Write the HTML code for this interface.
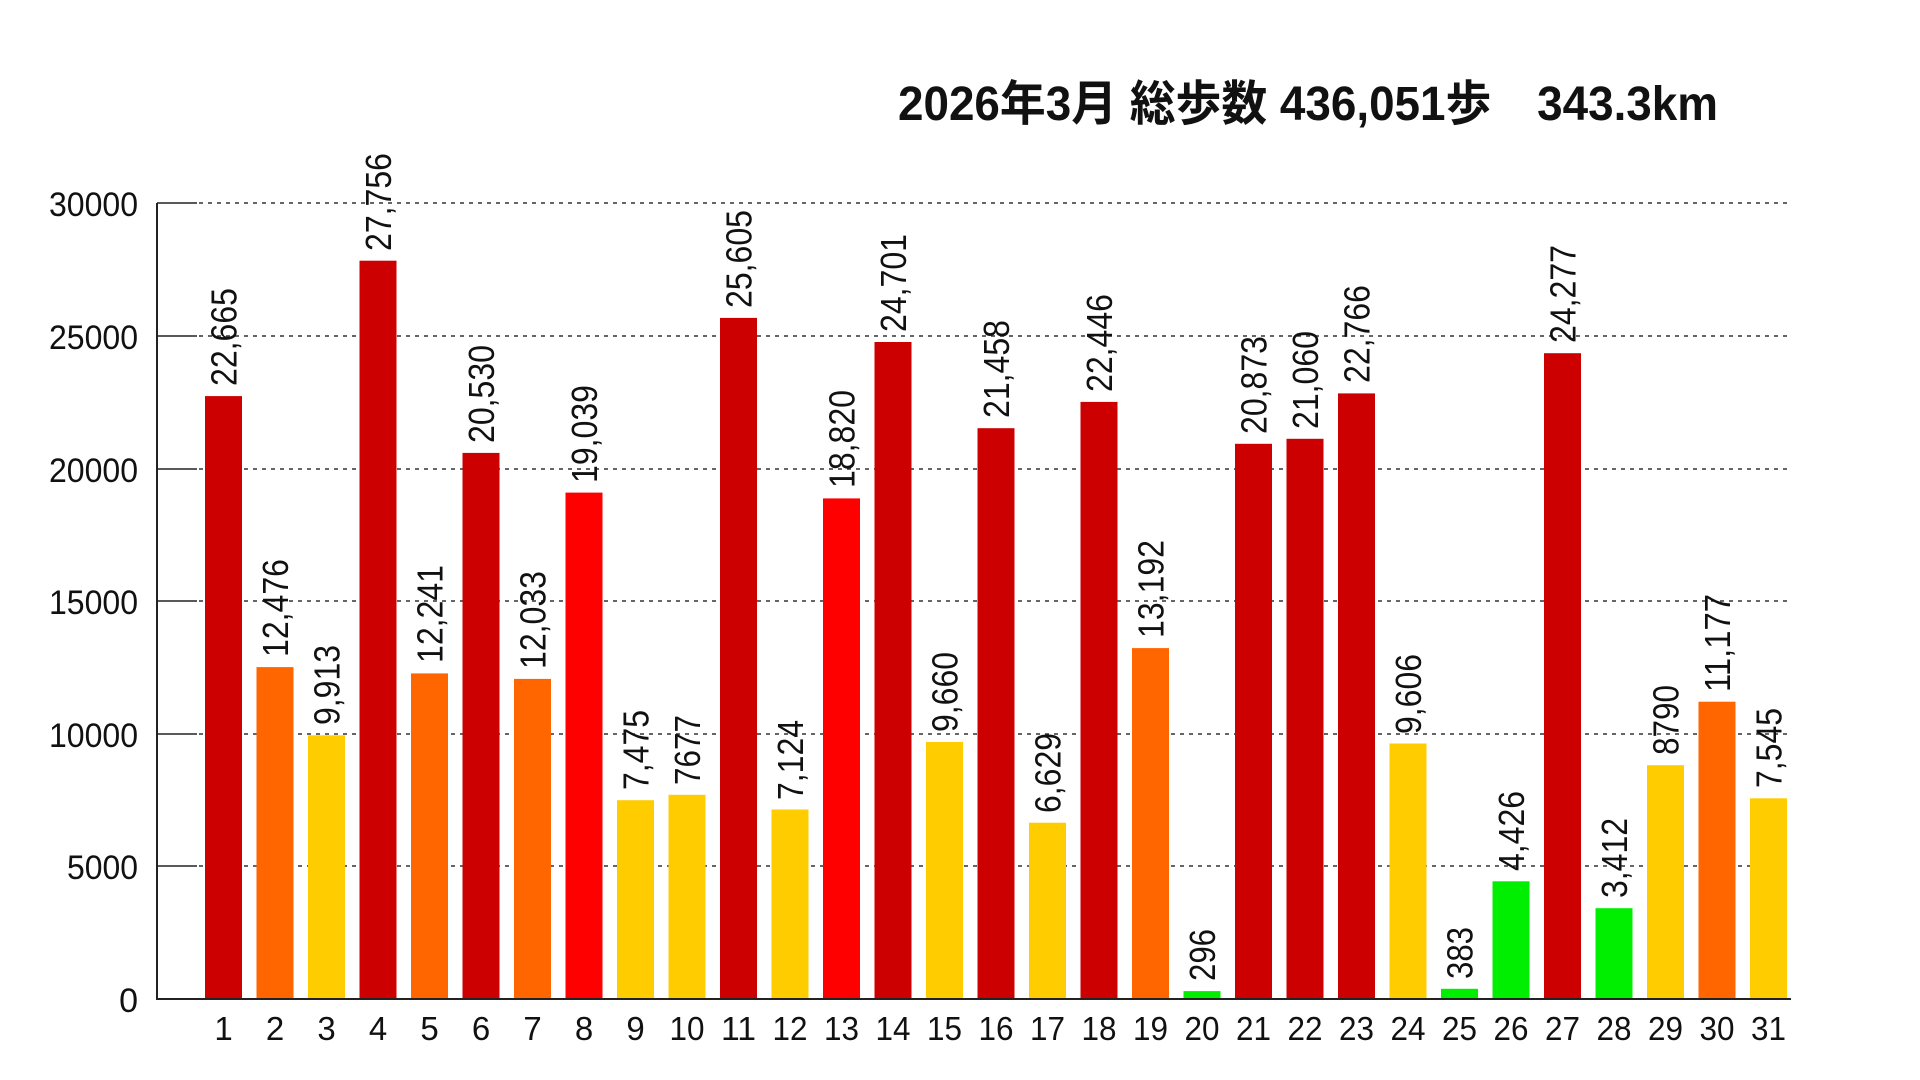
<!DOCTYPE html>
<html><head><meta charset="utf-8"><style>
html,body{margin:0;padding:0;background:#fff;}
svg{display:block;}
text{font-family:"Liberation Sans","Noto Sans CJK JP",sans-serif;fill:#111;}
</style></head><body>
<svg width="1920" height="1080" viewBox="0 0 1920 1080" xmlns="http://www.w3.org/2000/svg">
<text x="898" y="120" font-size="48" font-weight="bold" textLength="820" lengthAdjust="spacingAndGlyphs">2026年3月 総歩数 436,051歩　343.3km</text>
<g stroke="#222" stroke-width="1.5">
<line x1="157" y1="203" x2="197" y2="203"/><line x1="157" y1="336" x2="197" y2="336"/><line x1="157" y1="469" x2="197" y2="469"/><line x1="157" y1="601" x2="197" y2="601"/><line x1="157" y1="734" x2="197" y2="734"/><line x1="157" y1="866" x2="197" y2="866"/>
</g>
<g stroke="#333" stroke-width="1.5" stroke-dasharray="4 5">
<line x1="199" y1="203" x2="1791" y2="203"/><line x1="199" y1="336" x2="1791" y2="336"/><line x1="199" y1="469" x2="1791" y2="469"/><line x1="199" y1="601" x2="1791" y2="601"/><line x1="199" y1="734" x2="1791" y2="734"/><line x1="199" y1="866" x2="1791" y2="866"/>
</g>
<g font-size="34" text-anchor="end">
<text x="138" y="216" textLength="89" lengthAdjust="spacingAndGlyphs">30000</text>
<text x="138" y="349" textLength="89" lengthAdjust="spacingAndGlyphs">25000</text>
<text x="138" y="482" textLength="89" lengthAdjust="spacingAndGlyphs">20000</text>
<text x="138" y="614" textLength="89" lengthAdjust="spacingAndGlyphs">15000</text>
<text x="138" y="747" textLength="89" lengthAdjust="spacingAndGlyphs">10000</text>
<text x="138" y="879" textLength="71" lengthAdjust="spacingAndGlyphs">5000</text>
<text x="138" y="1012">0</text>
</g>
<g>
<rect x="205" y="396.1" width="37" height="602.9" fill="#CC0000"/>
<rect x="256.5" y="667.1" width="37" height="331.9" fill="#FF6600"/>
<rect x="308" y="735.3" width="37" height="263.7" fill="#FFCC00"/>
<rect x="359.5" y="260.7" width="37" height="738.3" fill="#CC0000"/>
<rect x="411" y="673.4" width="37" height="325.6" fill="#FF6600"/>
<rect x="462.5" y="452.9" width="37" height="546.1" fill="#CC0000"/>
<rect x="514" y="678.9" width="37" height="320.1" fill="#FF6600"/>
<rect x="565.5" y="492.6" width="37" height="506.4" fill="#FF0000"/>
<rect x="617" y="800.2" width="37" height="198.8" fill="#FFCC00"/>
<rect x="668.5" y="794.8" width="37" height="204.2" fill="#FFCC00"/>
<rect x="720" y="317.9" width="37" height="681.1" fill="#CC0000"/>
<rect x="771.5" y="809.5" width="37" height="189.5" fill="#FFCC00"/>
<rect x="823" y="498.4" width="37" height="500.6" fill="#FF0000"/>
<rect x="874.5" y="342" width="37" height="657" fill="#CC0000"/>
<rect x="926" y="742" width="37" height="257" fill="#FFCC00"/>
<rect x="977.5" y="428.2" width="37" height="570.8" fill="#CC0000"/>
<rect x="1029" y="822.7" width="37" height="176.3" fill="#FFCC00"/>
<rect x="1080.5" y="401.9" width="37" height="597.1" fill="#CC0000"/>
<rect x="1132" y="648.1" width="37" height="350.9" fill="#FF6600"/>
<rect x="1183.5" y="991.1" width="37" height="7.9" fill="#00EE00"/>
<rect x="1235" y="443.8" width="37" height="555.2" fill="#CC0000"/>
<rect x="1286.5" y="438.8" width="37" height="560.2" fill="#CC0000"/>
<rect x="1338" y="393.4" width="37" height="605.6" fill="#CC0000"/>
<rect x="1389.5" y="743.5" width="37" height="255.5" fill="#FFCC00"/>
<rect x="1441" y="988.8" width="37" height="10.2" fill="#00EE00"/>
<rect x="1492.5" y="881.3" width="37" height="117.7" fill="#00EE00"/>
<rect x="1544" y="353.2" width="37" height="645.8" fill="#CC0000"/>
<rect x="1595.5" y="908.2" width="37" height="90.8" fill="#00EE00"/>
<rect x="1647" y="765.2" width="37" height="233.8" fill="#FFCC00"/>
<rect x="1698.5" y="701.7" width="37" height="297.3" fill="#FF6600"/>
<rect x="1750" y="798.3" width="37" height="200.7" fill="#FFCC00"/>
</g>
<g stroke="#222" stroke-width="2">
<line x1="157" y1="203" x2="157" y2="999"/>
<line x1="156" y1="999" x2="1791" y2="999"/>
</g>
<g font-size="36">
<text transform="translate(236.5,386) rotate(-90)" textLength="98" lengthAdjust="spacingAndGlyphs">22,665</text>
<text transform="translate(288,657) rotate(-90)" textLength="98" lengthAdjust="spacingAndGlyphs">12,476</text>
<text transform="translate(339.5,725) rotate(-90)" textLength="80" lengthAdjust="spacingAndGlyphs">9,913</text>
<text transform="translate(391,251) rotate(-90)" textLength="98" lengthAdjust="spacingAndGlyphs">27,756</text>
<text transform="translate(442.5,663) rotate(-90)" textLength="98" lengthAdjust="spacingAndGlyphs">12,241</text>
<text transform="translate(494,443) rotate(-90)" textLength="98" lengthAdjust="spacingAndGlyphs">20,530</text>
<text transform="translate(545.5,669) rotate(-90)" textLength="98" lengthAdjust="spacingAndGlyphs">12,033</text>
<text transform="translate(597,483) rotate(-90)" textLength="98" lengthAdjust="spacingAndGlyphs">19,039</text>
<text transform="translate(648.5,790) rotate(-90)" textLength="80" lengthAdjust="spacingAndGlyphs">7,475</text>
<text transform="translate(700,785) rotate(-90)" textLength="70" lengthAdjust="spacingAndGlyphs">7677</text>
<text transform="translate(751.5,308) rotate(-90)" textLength="98" lengthAdjust="spacingAndGlyphs">25,605</text>
<text transform="translate(803,800) rotate(-90)" textLength="80" lengthAdjust="spacingAndGlyphs">7,124</text>
<text transform="translate(854.5,488) rotate(-90)" textLength="98" lengthAdjust="spacingAndGlyphs">18,820</text>
<text transform="translate(906,332) rotate(-90)" textLength="98" lengthAdjust="spacingAndGlyphs">24,701</text>
<text transform="translate(957.5,732) rotate(-90)" textLength="80" lengthAdjust="spacingAndGlyphs">9,660</text>
<text transform="translate(1009,418) rotate(-90)" textLength="98" lengthAdjust="spacingAndGlyphs">21,458</text>
<text transform="translate(1060.5,813) rotate(-90)" textLength="80" lengthAdjust="spacingAndGlyphs">6,629</text>
<text transform="translate(1112,392) rotate(-90)" textLength="98" lengthAdjust="spacingAndGlyphs">22,446</text>
<text transform="translate(1163.5,638) rotate(-90)" textLength="98" lengthAdjust="spacingAndGlyphs">13,192</text>
<text transform="translate(1215,981) rotate(-90)" textLength="52" lengthAdjust="spacingAndGlyphs">296</text>
<text transform="translate(1266.5,434) rotate(-90)" textLength="98" lengthAdjust="spacingAndGlyphs">20,873</text>
<text transform="translate(1318,429) rotate(-90)" textLength="98" lengthAdjust="spacingAndGlyphs">21,060</text>
<text transform="translate(1369.5,383) rotate(-90)" textLength="98" lengthAdjust="spacingAndGlyphs">22,766</text>
<text transform="translate(1421,734) rotate(-90)" textLength="80" lengthAdjust="spacingAndGlyphs">9,606</text>
<text transform="translate(1472.5,979) rotate(-90)" textLength="52" lengthAdjust="spacingAndGlyphs">383</text>
<text transform="translate(1524,871) rotate(-90)" textLength="80" lengthAdjust="spacingAndGlyphs">4,426</text>
<text transform="translate(1575.5,343) rotate(-90)" textLength="98" lengthAdjust="spacingAndGlyphs">24,277</text>
<text transform="translate(1627,898) rotate(-90)" textLength="80" lengthAdjust="spacingAndGlyphs">3,412</text>
<text transform="translate(1678.5,755) rotate(-90)" textLength="70" lengthAdjust="spacingAndGlyphs">8790</text>
<text transform="translate(1730,692) rotate(-90)" textLength="98" lengthAdjust="spacingAndGlyphs">11,177</text>
<text transform="translate(1781.5,788) rotate(-90)" textLength="80" lengthAdjust="spacingAndGlyphs">7,545</text>
</g>
<g font-size="33" text-anchor="middle">
<text x="223.5" y="1040">1</text><text x="275" y="1040">2</text><text x="326.5" y="1040">3</text><text x="378" y="1040">4</text><text x="429.5" y="1040">5</text><text x="481" y="1040">6</text><text x="532.5" y="1040">7</text><text x="584" y="1040">8</text><text x="635.5" y="1040">9</text>
<text x="687" y="1040" textLength="35" lengthAdjust="spacingAndGlyphs">10</text><text x="738.5" y="1040" textLength="35" lengthAdjust="spacingAndGlyphs">11</text><text x="790" y="1040" textLength="35" lengthAdjust="spacingAndGlyphs">12</text><text x="841.5" y="1040" textLength="35" lengthAdjust="spacingAndGlyphs">13</text><text x="893" y="1040" textLength="35" lengthAdjust="spacingAndGlyphs">14</text><text x="944.5" y="1040" textLength="35" lengthAdjust="spacingAndGlyphs">15</text><text x="996" y="1040" textLength="35" lengthAdjust="spacingAndGlyphs">16</text><text x="1047.5" y="1040" textLength="35" lengthAdjust="spacingAndGlyphs">17</text><text x="1099" y="1040" textLength="35" lengthAdjust="spacingAndGlyphs">18</text><text x="1150.5" y="1040" textLength="35" lengthAdjust="spacingAndGlyphs">19</text><text x="1202" y="1040" textLength="35" lengthAdjust="spacingAndGlyphs">20</text><text x="1253.5" y="1040" textLength="35" lengthAdjust="spacingAndGlyphs">21</text><text x="1305" y="1040" textLength="35" lengthAdjust="spacingAndGlyphs">22</text><text x="1356.5" y="1040" textLength="35" lengthAdjust="spacingAndGlyphs">23</text><text x="1408" y="1040" textLength="35" lengthAdjust="spacingAndGlyphs">24</text><text x="1459.5" y="1040" textLength="35" lengthAdjust="spacingAndGlyphs">25</text><text x="1511" y="1040" textLength="35" lengthAdjust="spacingAndGlyphs">26</text><text x="1562.5" y="1040" textLength="35" lengthAdjust="spacingAndGlyphs">27</text><text x="1614" y="1040" textLength="35" lengthAdjust="spacingAndGlyphs">28</text><text x="1665.5" y="1040" textLength="35" lengthAdjust="spacingAndGlyphs">29</text><text x="1717" y="1040" textLength="35" lengthAdjust="spacingAndGlyphs">30</text><text x="1768.5" y="1040" textLength="35" lengthAdjust="spacingAndGlyphs">31</text>
</g>
</svg>
</body></html>
